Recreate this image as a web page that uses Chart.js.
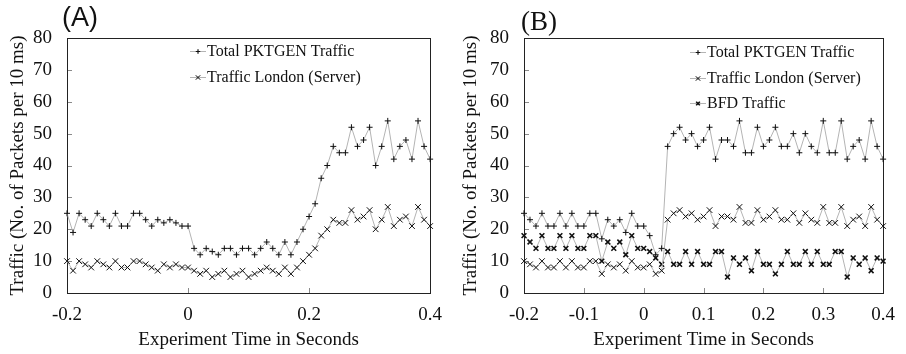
<!DOCTYPE html>
<html>
<head>
<meta charset="utf-8">
<script src="https://cdn.jsdelivr.net/npm/chart.js@4.4.1/dist/chart.umd.min.js"></script>
<style>
  html, body { margin: 0; padding: 0; background: #fff; }
  #wrap { width: 906px; height: 354px; display: flex; }
  .panel { position: relative; width: 453px; height: 354px; }
</style>
</head>
<body>
<div id="wrap">
  <div class="panel"><canvas id="chartA" width="453" height="354"></canvas></div>
  <div class="panel"><canvas id="chartB" width="453" height="354"></canvas></div>
</div>
<script>
// sample times (s), one every 10 ms
const timeSec = [
  -0.2, -0.19, -0.18, -0.17, -0.16, -0.15, -0.14, -0.13, -0.12, -0.11,
  -0.1, -0.09, -0.08, -0.07, -0.06, -0.05, -0.04, -0.03, -0.02, -0.01,
  0, 0.01, 0.02, 0.03, 0.04, 0.05, 0.06, 0.07, 0.08, 0.09,
  0.1, 0.11, 0.12, 0.13, 0.14, 0.15, 0.16, 0.17, 0.18, 0.19,
  0.2, 0.21, 0.22, 0.23, 0.24, 0.25, 0.26, 0.27, 0.28, 0.29,
  0.3, 0.31, 0.32, 0.33, 0.34, 0.35, 0.36, 0.37, 0.38, 0.39, 0.4
];

// panel A
const totalA = [
  25, 19, 25, 23, 21, 25, 23, 21, 25, 21, 21, 25, 25, 23, 21, 23, 22, 23, 22, 21, 21,
  14, 12, 14, 13, 12, 14, 14, 12, 14, 14, 12, 14, 16, 14, 12, 16, 12, 16,
  20, 24, 28, 36, 40, 46, 44, 44, 52, 46, 48, 52, 40, 46, 54, 42, 46, 48, 42, 54, 46, 42
];
const londonA = [
  10, 7, 10, 9, 8, 10, 9, 8, 10, 8, 8, 10, 10, 9, 8, 7, 9, 8, 9, 8, 8,
  7, 6, 7, 5, 6, 7, 5, 6, 7, 5, 6, 7, 8, 7, 6, 8, 6, 8,
  10, 12, 14, 18, 20, 23, 22, 22, 26, 23, 24, 26, 20, 23, 27, 21, 23, 24, 21, 27, 23, 21
];

// panel B
const totalB = [
  25, 23, 21, 25, 21, 21, 25, 21, 25, 21, 21, 25, 25, 17, 23, 21, 23, 19, 25, 21, 21,
  18, 12, 14, 46, 50, 52, 48, 50, 46, 48, 52, 42, 48, 48, 46, 54, 44, 44, 52,
  46, 48, 52, 46, 46, 50, 44, 50, 46, 44, 54, 44, 44, 54, 42, 46, 48, 42, 54, 46, 42
];
const londonB = [
  10, 9, 8, 10, 8, 8, 10, 8, 10, 8, 8, 10, 10, 6, 9, 8, 9, 7, 10, 8, 8,
  9, 6, 7, 23, 25, 26, 24, 25, 23, 24, 26, 21, 24, 24, 23, 27, 22, 22, 26,
  23, 24, 26, 23, 23, 25, 22, 25, 23, 22, 27, 22, 22, 27, 21, 23, 24, 21, 27, 23, 21
];
const bfdB = [
  18, 16, 14, 18, 14, 14, 18, 14, 18, 14, 14, 18, 18, 10, 16, 14, 16, 12, 18, 14, 14,
  13, 11, 9, 13, 9, 9, 13, 9, 13, 9, 9, 13, 13, 5, 11, 9, 11, 7, 13,
  9, 9, 6, 9, 13, 9, 9, 13, 9, 13, 9, 9, 13, 13, 5, 11, 9, 11, 7, 11, 10
];

const seriesLabels = ['Total PKTGEN Traffic', 'Traffic London (Server)', 'BFD Traffic'];

const SERIF = '"Liberation Serif", "Times New Roman", serif';
const INK = '#111';
const LINE_GRAY = '#b4b4b4';

const markerStyles = [
  { pointStyle: 'cross', radius: 3, borderWidth: 1 },
  { pointStyle: 'crossRot', radius: 4, borderWidth: 1 },
  { pointStyle: 'crossRot', radius: 3.4, borderWidth: 1.6 }
];

const toPoints = ys => ys.map((y, i) => ({ x: timeSec[i], y: y }));

function makeDataset(i, ys) {
  const m = markerStyles[i];
  return {
    label: seriesLabels[i],
    data: toPoints(ys),
    borderColor: LINE_GRAY,
    borderWidth: 1,
    pointStyle: m.pointStyle,
    pointRadius: m.radius,
    pointBorderWidth: m.borderWidth,
    pointBorderColor: INK,
    pointBackgroundColor: INK,
    tension: 0,
    clip: false,
    _marker: m
  };
}

// box around the plot plus small inward tick marks
const framePlugin = {
  id: 'frame',
  beforeDatasetsDraw(chart) {
    const { ctx, chartArea: a, scales } = chart;
    ctx.save();
    ctx.strokeStyle = '#8a8a8a';
    ctx.lineWidth = 1;
    ctx.beginPath();
    scales.y.ticks.forEach(t => {
      const py = Math.round(scales.y.getPixelForValue(t.value)) + 0.5;
      ctx.moveTo(a.left, py);
      ctx.lineTo(a.left + 5, py);
    });
    scales.x.ticks.forEach(t => {
      const px = Math.round(scales.x.getPixelForValue(t.value)) + 0.5;
      ctx.moveTo(px, a.bottom);
      ctx.lineTo(px, a.bottom - 5);
    });
    ctx.stroke();
    ctx.strokeStyle = '#222';
    ctx.strokeRect(Math.round(a.left) + 0.5, Math.round(a.top) + 0.5,
      Math.round(a.right - a.left), Math.round(a.bottom - a.top));
    ctx.restore();
  }
};

// key inside the plot, one row per dataset
const keyPlugin = {
  id: 'key',
  afterDraw(chart, args, opts) {
    const { ctx } = chart;
    ctx.save();
    chart.data.datasets.forEach((ds, i) => {
      const y = opts.top + i * opts.rowGap;
      ctx.strokeStyle = LINE_GRAY;
      ctx.lineWidth = 1;
      ctx.beginPath();
      ctx.moveTo(opts.textX - 17, Math.round(y) + 0.5);
      ctx.lineTo(opts.textX - 1, Math.round(y) + 0.5);
      ctx.stroke();
      Chart.helpers.drawPoint(ctx, {
        pointStyle: ds._marker.pointStyle,
        radius: ds._marker.radius * 0.75,
        borderWidth: ds._marker.borderWidth,
        rotation: 0
      }, opts.textX - 9, Math.round(y) + 0.5);
      ctx.strokeStyle = INK;
      ctx.lineWidth = ds._marker.borderWidth;
      ctx.stroke();
      ctx.font = 'normal normal 400 16px ' + SERIF;
      ctx.textBaseline = 'middle';
      ctx.textAlign = 'left';
      ctx.fillStyle = INK;
      ctx.fillText(ds.label, opts.textX, y + 1);
    });
    ctx.restore();
  }
};

// panel letter above the plot
const letterPlugin = {
  id: 'letter',
  afterDraw(chart, args, opts) {
    const { ctx } = chart;
    ctx.save();
    ctx.font = opts.font;
    ctx.fillStyle = INK;
    ctx.textBaseline = 'middle';
    ctx.fillText(opts.text, opts.x, opts.y);
    ctx.restore();
  }
};

const fmtTime = v => (Math.abs(v) < 1e-9 ? '0' : v.toFixed(1));

function makePanel(canvasId, datasets, o) {
  return new Chart(document.getElementById(canvasId), {
    type: 'line',
    data: { datasets: datasets },
    plugins: [framePlugin, keyPlugin, letterPlugin],
    options: {
      responsive: false,
      animation: false,
      events: [],
      layout: { padding: { top: 38, right: o.rightPad, left: 0, bottom: 0 } },
      plugins: {
        legend: { display: false },
        tooltip: { enabled: false },
        key: o.key,
        letter: o.letter
      },
      scales: {
        x: {
          type: 'linear',
          min: -0.2,
          max: 0.4,
          afterFit: s => { s.height = 61; },
          grid: { display: false, drawTicks: false },
          border: { display: false },
          ticks: {
            stepSize: o.xStep,
            autoSkip: false,
            maxRotation: 0,
            padding: 11,
            color: INK,
            font: { family: SERIF, size: 19 },
            callback: fmtTime
          },
          title: {
            display: true,
            text: 'Experiment Time in Seconds',
            color: INK,
            font: { family: SERIF, size: 19 },
            padding: { top: 0, bottom: 3 }
          }
        },
        y: {
          min: 0,
          max: 80,
          afterFit: s => { s.width = o.leftW; },
          grid: { display: false, drawTicks: false },
          border: { display: false },
          ticks: {
            stepSize: 10,
            padding: 15,
            color: INK,
            font: { family: SERIF, size: 19 }
          },
          title: {
            display: true,
            text: 'Traffic (No. of Packets per 10 ms)',
            color: INK,
            font: { family: SERIF, size: 19 },
            padding: { top: 7, bottom: 0 }
          }
        }
      }
    }
  });
}

makePanel('chartA', [makeDataset(0, totalA), makeDataset(1, londonA)], {
  leftW: 67,
  rightPad: 19,
  xStep: 0.2,
  key: { textX: 207, top: 51, rowGap: 26 },
  letter: { text: '(A)', x: 62, y: 19, font: '27px "Liberation Sans", Arial, sans-serif' }
});

makePanel('chartB', [makeDataset(0, totalB), makeDataset(1, londonB), makeDataset(2, bfdB)], {
  leftW: 71,
  rightPad: 12,
  xStep: 0.1,
  key: { textX: 254, top: 52, rowGap: 25.5 },
  letter: { text: '(B)', x: 68, y: 23, font: '27px ' + SERIF }
});
</script>
</body>
</html>
